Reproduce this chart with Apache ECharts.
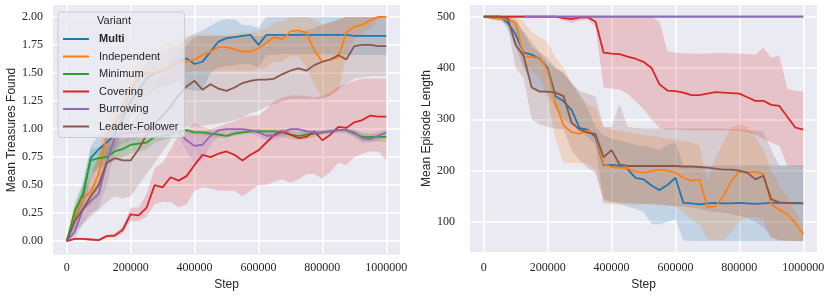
<!DOCTYPE html>
<html><head><meta charset="utf-8">
<script src="https://cdn.jsdelivr.net/npm/echarts@6/dist/echarts.min.js"></script>
<style>html,body{margin:0;padding:0;background:#fff}#c{width:831px;height:296px}</style>
</head><body><div id="c"></div>
<script>
const steps = [0,25000,50000,75000,100000,125000,150000,175000,200000,225000,250000,275000,300000,325000,350000,375000,400000,425000,450000,475000,500000,525000,550000,575000,600000,625000,650000,675000,700000,725000,750000,775000,800000,825000,850000,875000,900000,925000,950000,975000,1000000];
const variants = ['Multi','Independent','Minimum','Covering','Burrowing','Leader-Follower'];
const colors = ['#1f77b4','#ff7f0e','#2ca02c','#d62728','#9467bd','#8c564b'];
const bandColors = ['rgba(31,119,180,0.2)','rgba(255,127,14,0.2)','rgba(44,160,44,0.2)','rgba(214,39,40,0.2)','rgba(148,103,189,0.2)','rgba(140,86,75,0.2)'];
const yTicksLeft = [0,0.25,0.5,0.75,1.0,1.25,1.5,1.75,2.0];
const yTicksRight = [100,200,300,400,500];
const xTicks = [0,200000,400000,600000,800000,1000000];

// ---- Left: Mean Treasures Found ----
const multiT = [0,0.2,0.4,0.74,0.82,0.88,0.95,1.1,1.25,1.35,1.45,1.5,1.52,1.55,1.6,1.63,1.58,1.6,1.69,1.78,1.81,1.82,1.83,1.84,1.75,1.84,1.84,1.84,1.84,1.84,1.84,1.84,1.84,1.84,1.84,1.84,1.83,1.83,1.83,1.83,1.83];
const multiTlo = [0,0.1,0.28,0.55,0.68,0.75,0.82,0.95,1.1,1.2,1.3,1.35,1.38,1.4,1.42,1.36,1.34,1.35,1.5,1.55,1.56,1.57,1.58,1.58,1.55,1.66,1.66,1.67,1.67,1.67,1.67,1.67,1.67,1.67,1.67,1.66,1.66,1.66,1.66,1.66,1.66];
const multiThi = [0,0.3,0.5,0.85,0.95,1.0,1.08,1.25,1.4,1.5,1.6,1.65,1.68,1.72,1.76,1.8,1.85,1.88,1.92,1.96,1.98,1.98,1.93,1.92,1.9,2.0,2.0,2.0,2.0,2.0,2.0,2.0,2.0,2.0,2.0,2.0,2.0,2.0,2.0,2.0,2.0];
const indepT = [0,0.22,0.38,0.44,0.6,0.95,1.05,1.15,1.35,1.45,1.5,1.5,1.52,1.55,1.6,1.6,1.62,1.66,1.69,1.73,1.73,1.71,1.69,1.69,1.72,1.77,1.82,1.8,1.87,1.88,1.86,1.7,1.6,1.62,1.64,1.86,1.91,1.93,1.97,2.0,2.0];
const indepTlo = [0,0.12,0.28,0.32,0.4,0.7,0.85,0.95,1.1,1.2,1.3,1.35,1.38,1.4,1.45,1.5,1.52,1.52,1.52,1.52,1.52,1.52,1.52,1.52,1.53,1.55,1.6,1.6,1.65,1.65,1.55,1.4,1.28,1.3,1.35,1.65,1.8,1.85,1.9,1.98,2.0];
const indepThi = [0,0.3,0.45,0.55,0.8,1.1,1.2,1.3,1.5,1.62,1.7,1.72,1.75,1.78,1.8,1.83,1.84,1.84,1.84,1.84,1.84,1.85,1.86,1.86,1.88,1.9,1.95,1.96,2.0,2.0,2.0,1.98,1.93,1.95,1.97,2.0,2.0,2.0,2.0,2.0,2.0];
const minT = [0,0.27,0.42,0.72,0.74,0.75,0.8,0.82,0.86,0.87,0.88,0.93,0.94,0.95,0.98,0.99,0.97,0.97,0.96,0.95,0.94,0.96,0.97,0.98,0.98,0.98,0.98,0.97,0.95,0.94,0.95,0.96,0.97,0.98,0.99,0.99,0.96,0.93,0.93,0.93,0.93];
const minTlo = [0,0.18,0.32,0.6,0.65,0.68,0.72,0.75,0.78,0.8,0.82,0.88,0.9,0.92,0.95,0.97,0.95,0.95,0.93,0.92,0.92,0.94,0.95,0.96,0.96,0.95,0.94,0.93,0.91,0.9,0.91,0.93,0.95,0.96,0.97,0.97,0.93,0.89,0.89,0.89,0.89];
const minThi = [0,0.35,0.52,0.82,0.84,0.84,0.88,0.9,0.93,0.94,0.95,0.98,0.98,0.98,1.0,1.0,0.99,0.99,0.98,0.97,0.96,0.98,0.99,1.0,1.0,1.0,1.0,1.0,0.98,0.97,0.98,0.98,0.99,1.0,1.0,1.0,0.99,0.97,0.96,0.96,0.96];
const covT = [0,0.02,0.02,0.015,0.01,0.045,0.05,0.1,0.24,0.23,0.3,0.5,0.48,0.57,0.54,0.58,0.68,0.77,0.75,0.78,0.8,0.77,0.72,0.77,0.81,0.88,0.95,0.98,0.95,0.92,0.93,0.98,0.9,0.95,1.02,1.01,1.06,1.08,1.12,1.11,1.11];
const covTlo = [0,0.01,0.01,0.005,0,0.03,0.03,0.07,0.18,0.18,0.22,0.33,0.35,0.35,0.3,0.33,0.45,0.48,0.47,0.45,0.45,0.45,0.4,0.45,0.5,0.5,0.53,0.55,0.52,0.55,0.6,0.6,0.56,0.62,0.7,0.68,0.75,0.78,0.8,0.8,0.72];
const covThi = [0,0.03,0.03,0.025,0.02,0.06,0.07,0.13,0.3,0.3,0.42,0.65,0.7,0.82,0.95,1.0,1.05,1.02,1.0,1.02,1.05,1.07,1.1,1.12,1.12,1.18,1.25,1.28,1.3,1.3,1.3,1.28,1.3,1.32,1.38,1.4,1.43,1.45,1.45,1.45,1.45];
const burT = [0,0.08,0.28,0.36,0.42,0.7,0.92,0.96,0.97,0.97,0.98,0.98,0.98,0.98,0.97,0.9,0.85,0.86,0.94,0.99,1.0,1.0,1.0,0.99,0.97,0.94,0.94,0.97,1.0,1.0,0.98,0.97,0.97,0.98,0.99,0.99,0.97,0.92,0.91,0.94,0.97];
const burTlo = [0,0.02,0.15,0.25,0.3,0.5,0.8,0.88,0.9,0.92,0.94,0.95,0.95,0.95,0.93,0.8,0.7,0.72,0.85,0.95,0.97,0.97,0.97,0.96,0.93,0.9,0.9,0.93,0.97,0.97,0.95,0.95,0.95,0.96,0.97,0.96,0.93,0.88,0.88,0.9,0.93];
const burThi = [0,0.15,0.4,0.48,0.55,0.85,1.0,1.0,1.0,1.0,1.0,1.0,1.0,1.0,1.0,0.98,0.97,0.97,1.0,1.0,1.0,1.0,1.0,1.0,1.0,0.98,0.98,1.0,1.0,1.0,1.0,0.99,0.99,1.0,1.0,1.0,1.0,0.96,0.95,0.98,1.0];
const lfT = [0,0.18,0.28,0.4,0.5,0.7,0.74,0.72,0.72,0.82,0.95,1.05,1.12,1.2,1.3,1.38,1.43,1.35,1.4,1.36,1.34,1.37,1.41,1.43,1.44,1.44,1.45,1.49,1.52,1.54,1.52,1.57,1.6,1.62,1.66,1.62,1.74,1.75,1.75,1.74,1.74];
const lfTlo = [0,0.08,0.15,0.22,0.28,0.35,0.4,0.38,0.4,0.5,0.6,0.7,0.8,0.9,1.0,1.02,1.03,1.03,1.04,1.05,1.06,1.08,1.1,1.14,1.16,1.2,1.22,1.25,1.27,1.27,1.27,1.27,1.27,1.3,1.35,1.4,1.45,1.46,1.47,1.47,1.47];
const lfThi = [0,0.28,0.42,0.6,0.75,0.95,1.05,1.05,1.05,1.15,1.3,1.4,1.5,1.6,1.7,1.75,1.82,1.83,1.83,1.83,1.83,1.83,1.83,1.83,1.83,1.83,1.83,1.84,1.85,1.87,1.88,1.9,1.93,1.95,1.98,2.0,2.0,2.0,2.0,2.0,2.0];

// ---- Right: Mean Episode Length ----
const multiL = [500,500,500,488,465,430,426,418,400,345,335,318,283,280,265,210,211,209,203,186,183,171,162,172,186,137,136,134,136,137,136,136,137,136,135,136,137,137,137,137,136];
const multiLlo = [500,500,498,475,440,400,365,355,350,320,300,290,280,265,250,140,137,136,130,125,120,96,95,100,105,64,63,63,63,63,63,63,63,63,63,63,63,63,63,63,63];
const multiLhi = [500,500,500,500,495,470,440,430,420,400,390,370,350,320,285,270,262,258,255,250,248,245,240,250,255,210,210,210,210,210,210,210,210,210,210,210,210,210,210,210,210];
const indepL = [500,497,495,496,488,423,421,420,395,330,288,275,272,278,270,212,207,206,204,198,196,199,202,200,196,186,180,183,128,131,150,180,198,196,198,194,134,124,115,98,76];
const indepLlo = [500,494,490,490,470,400,395,380,340,260,215,215,215,214,200,136,134,134,134,134,134,134,134,132,130,118,105,95,66,65,65,80,100,108,110,105,68,64,63,63,62];
const indepLhi = [500,500,500,500,500,490,470,460,450,420,400,370,345,330,320,285,280,277,275,272,270,268,265,262,260,257,255,250,180,225,255,285,290,285,265,240,200,170,150,120,95];
const minL = [500,500,500,500,500,500,500,500,500,500,500,500,500,500,500,500,500,500,500,500,500,500,500,500,500,500,500,500,500,500,500,500,500,500,500,500,500,500,500,500,500];
const covL = [500,500,500,500,500,500,500,500,500,500,497,495,498,499,490,430,428,427,422,418,412,400,368,356,355,352,347,347,350,353,352,351,350,343,336,336,328,326,305,284,280];
const covLlo = [500,500,500,500,500,500,500,500,500,500,492,488,492,495,480,362,360,358,350,335,320,300,283,280,280,279,278,278,278,278,278,278,277,275,270,262,255,248,210,208,208];
const covLhi = [500,500,500,500,500,500,500,500,500,500,500,500,500,500,500,500,500,500,500,500,500,500,490,432,430,428,428,427,428,429,429,428,428,427,426,440,420,425,360,355,354];
const burL = [null,null,null,null,null,500,500,500,500,500,500,500,500,500,500,500,500,500,500,500,500,500,500,500,500,500,500,500,500,500,500,500,500,500,500,500,500,500,500,500,500];
const lfL = [500,500,500,497,445,423,362,354,354,352,345,293,280,274,271,226,240,212,209,209,209,209,209,209,209,208,208,207,206,204,202,202,200,196,183,190,144,138,137,136,136];
const lfLlo = [500,500,498,480,400,380,300,290,285,282,280,240,220,205,195,145,140,138,137,136,135,135,133,132,131,130,128,125,122,120,118,115,112,108,100,90,70,65,64,63,63];
const lfLhi = [500,500,500,500,490,470,450,430,410,400,390,370,355,350,345,285,285,330,285,283,282,282,282,282,282,282,282,282,282,282,282,281,280,278,278,275,240,210,210,210,210];

const leftData = [[multiT,multiTlo,multiThi],[indepT,indepTlo,indepThi],[minT,minTlo,minThi],[covT,covTlo,covThi],[burT,burTlo,burThi],[lfT,lfTlo,lfThi]];
const rightData = [[multiL,multiLlo,multiLhi],[indepL,indepLlo,indepLhi],[minL,null,null],[covL,covLlo,covLhi],[burL,null,null],[lfL,lfLlo,lfLhi]];

const series = [];
function bandSeries(idx, lo, hi, color) {
  return {
    type:'custom', xAxisIndex:idx, yAxisIndex:idx, silent:true, z:2,
    data:[[0]],
    renderItem:(params, api) => {
      const pts = [];
      for (let k = 0; k < steps.length; k++) pts.push(api.coord([steps[k], hi[k]]));
      for (let k = steps.length - 1; k >= 0; k--) pts.push(api.coord([steps[k], lo[k]]));
      return {type:'polygon', shape:{points:pts}, style:{fill:color, stroke:null}};
    }
  };
}
function addSeries(idx, data) {
  data.forEach((d, i) => {
    const [mean, lo, hi] = d;
    if (lo && hi) series.push(bandSeries(idx, lo, hi, bandColors[i]));
    series.push({type:'line', name:variants[i], xAxisIndex:idx, yAxisIndex:idx, symbol:'none', showSymbol:false,
      lineStyle:{color:colors[i], width:1.8}, itemStyle:{color:colors[i]},
      data: steps.map((s,k)=>[s, mean[k]]), z:3});
  });
}
addSeries(0, leftData);
addSeries(1, rightData);

const SERIF = "'Liberation Serif', 'DejaVu Serif', serif";
const SANS = "'Liberation Sans', Arial, sans-serif";
const tickFont = {fontFamily:SERIF, fontSize:12, color:'#262626'};
const nameFont = {fontFamily:SANS, fontSize:12, color:'#262626'};
function xAxis(idx, margin, gap) {
  return {type:'value', gridIndex:idx, min:-43000, max:1043000,
    name:'Step', nameLocation:'middle', nameGap:gap, nameTextStyle:nameFont,
    axisLine:{show:false}, axisTick:{show:false, customValues:xTicks},
    axisLabel:Object.assign({customValues:xTicks, margin:margin, formatter:v=>String(v)}, tickFont),
    splitLine:{show:true, lineStyle:{color:'#ffffff', width:1.5}}};
}
const option = {
  animation:false,
  backgroundColor:'#ffffff',
  grid:[
    {left:53, top:5, width:347, height:252, show:true, backgroundColor:'#eaeaf2', borderWidth:0},
    {left:470, top:5, width:347, height:248, show:true, backgroundColor:'#eaeaf2', borderWidth:0}
  ],
  xAxis:[xAxis(0, 7, 19), xAxis(1, 10, 23)],
  yAxis:[
    {type:'value', gridIndex:0, min:-0.124, max:2.106, name:'Mean Treasures Found', nameLocation:'middle', nameGap:35,
      nameTextStyle:nameFont, axisLine:{show:false}, axisTick:{show:false, customValues:yTicksLeft},
      axisLabel:Object.assign({customValues:yTicksLeft, margin:10, formatter:v=>v.toFixed(2)}, tickFont),
      splitLine:{show:true, lineStyle:{color:'#ffffff', width:1.5}}},
    {type:'value', gridIndex:1, min:41.2, max:522.7, name:'Mean Episode Length', nameLocation:'middle', nameGap:28,
      nameTextStyle:nameFont, axisLine:{show:false}, axisTick:{show:false, customValues:yTicksRight},
      axisLabel:Object.assign({customValues:yTicksRight, margin:15, formatter:v=>String(v)}, tickFont),
      splitLine:{show:true, lineStyle:{color:'#ffffff', width:1.5}}}
  ],
  legend:{
    data:variants.map(n=>({name:n, icon:'rect'})), orient:'vertical', left:58, top:12, padding:[20,6,4,5], itemGap:3.5,
    itemWidth:26, itemHeight:2, backgroundColor:'rgba(234,234,242,0.8)', borderColor:'#cccccc', borderWidth:1, borderRadius:3,
    textStyle:{fontFamily:SANS, fontSize:11, color:'#262626', lineHeight:14, padding:[0,0,0,5],
      rich:{b:{fontWeight:'bold', fontFamily:SANS, fontSize:11, color:'#262626', lineHeight:14}}},
    formatter: n => n === 'Multi' ? '{b|Multi}' : n,
    selectedMode:false
  },
  graphic:[{type:'text', left:97, top:15, z:100, style:{text:'Variant', fontFamily:SANS, fontSize:11, fill:'#262626'}}],
  series:series
};
const chart = echarts.init(document.getElementById('c'), null, {renderer:'canvas'});
chart.setOption(option);
</script></body></html>
